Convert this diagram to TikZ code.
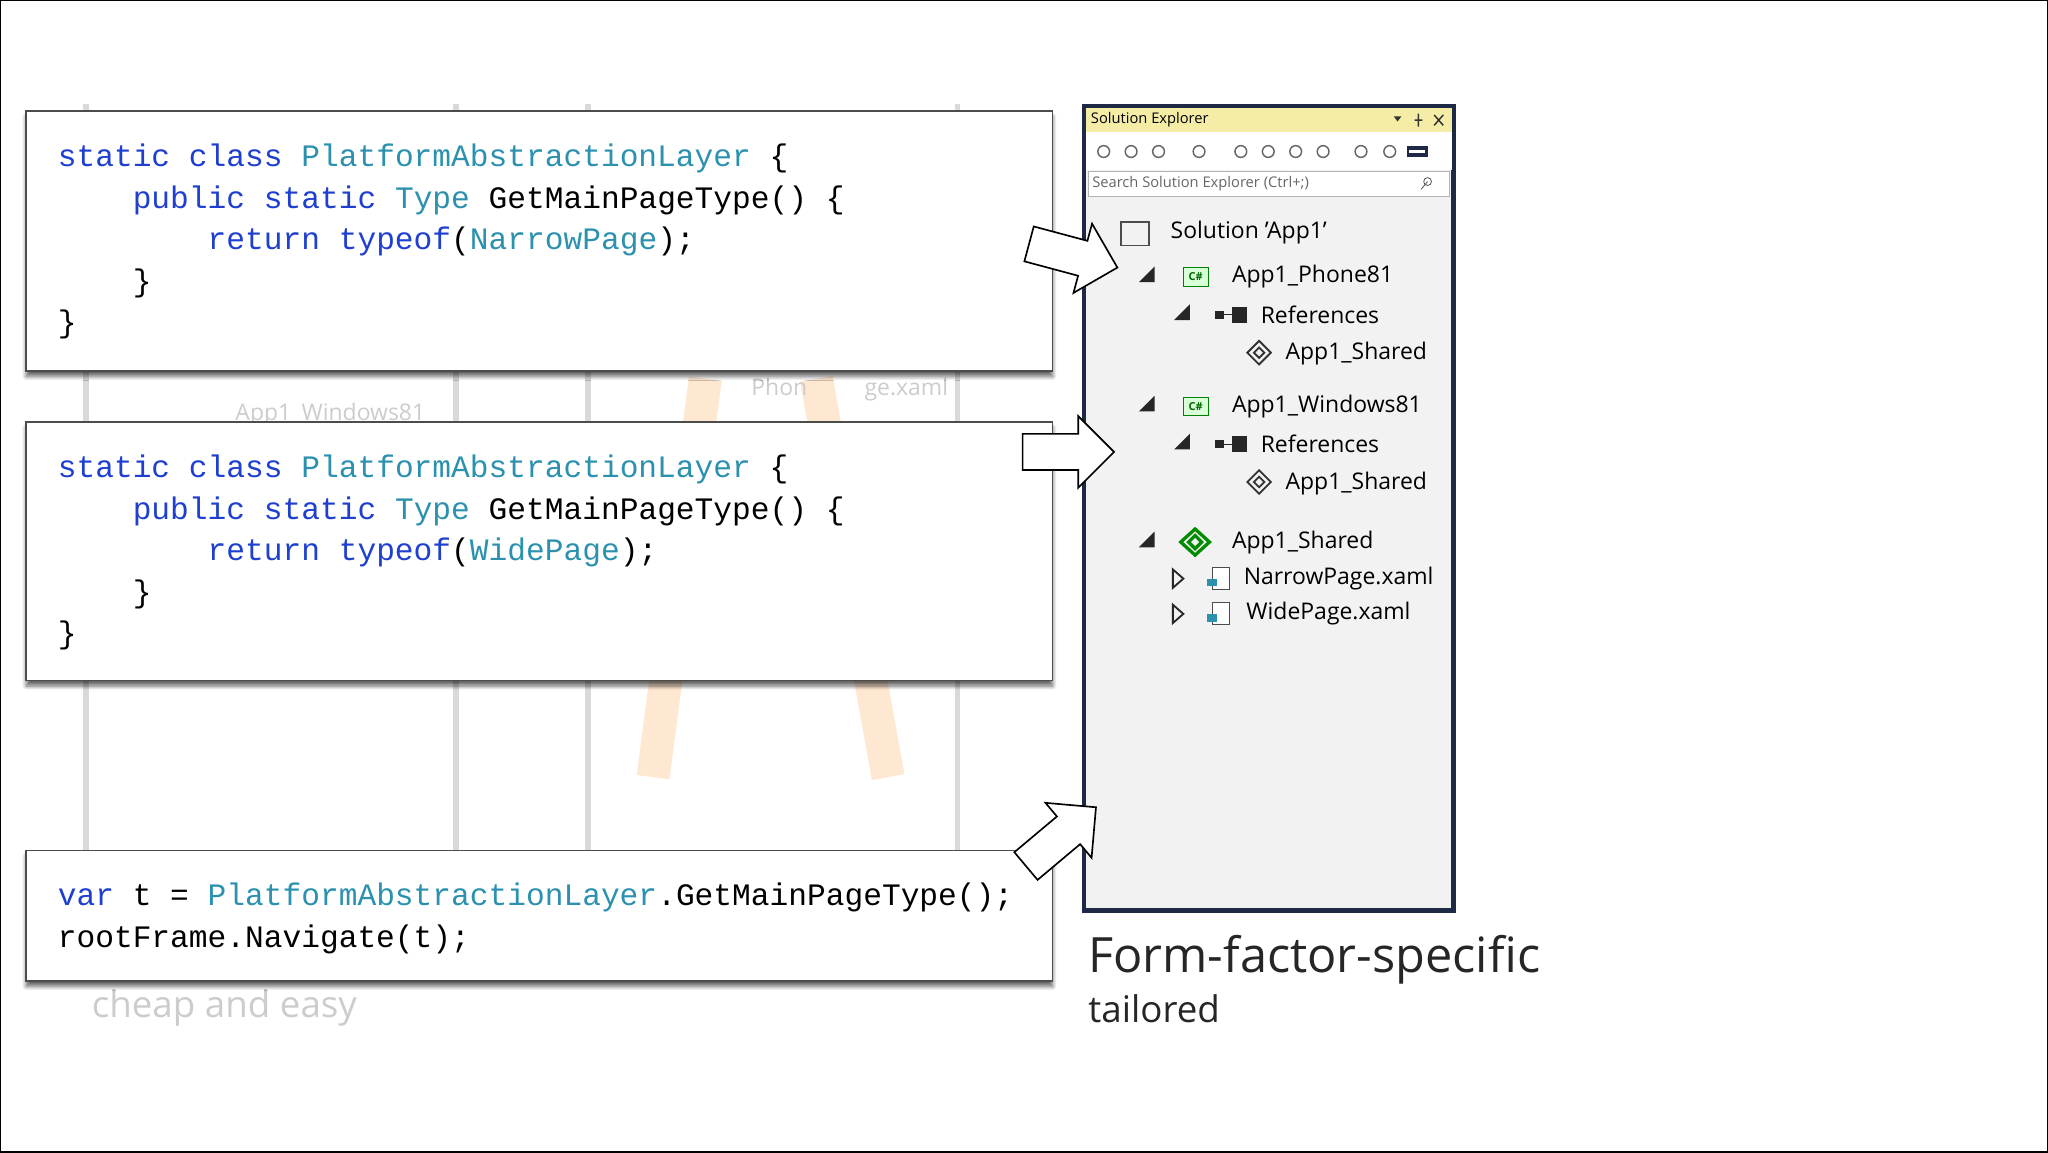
\documentclass[tikz,border=0pt]{standalone}
\usepackage{fontspec}
\setmainfont{Open Sans}
\setmonofont{Liberation Mono}
\usetikzlibrary{shapes.arrows,shadows.blur}
\definecolor{kw}{HTML}{1F3FD0}
\definecolor{ty}{HTML}{2B91AF}
\definecolor{navy}{HTML}{1E2A45}
\definecolor{seyel}{HTML}{F5EDA6}
\definecolor{sebg}{HTML}{F2F2F2}
\newcommand{\kw}[1]{\textcolor{kw}{#1}}
\newcommand{\ty}[1]{\textcolor{ty}{#1}}
\tikzset{
  codebox/.style={draw=black!70, fill=white, line width=0.8pt,
    blur shadow={shadow blur steps=8, shadow xshift=0pt, shadow yshift=-3pt, shadow opacity=60}},
  codetext/.style={anchor=north west, align=left, inner sep=0pt,
    font=\ttfamily\fontsize{17}{22.6}\selectfont},
  bigarrow/.style={single arrow, draw=black, fill=white, line width=0.9pt,
    minimum height=17.5mm, minimum width=13.5mm, single arrow head extend=3.4mm,
    text height=0pt, text depth=0pt, inner xsep=0pt, inner ysep=3.3mm},
  treeitem/.style={anchor=west, inner sep=0pt, font=\fontsize{12.5}{14}\selectfont},
}
\begin{document}
\begin{tikzpicture}[x=0.25mm, y=-0.25mm]
  \useasboundingbox (0,0) rectangle (1568,882);
  \draw[black, line width=1pt] (0,0) rectangle (1568,882);
  % faded background
  \foreach \gx in {66,349,450,733}
    \draw[black!15, line width=3pt] (\gx,80) -- (\gx,651);
  \draw[orange!18, line width=18pt] (540,290) -- (500,595);
  \draw[orange!18, line width=18pt] (625,290) -- (680,595);
  \node[treeitem, text=black!20] (ghostwin) at (180,317) {App1\_Windows81};
  \node[treeitem, text=black!20] (ghostphone) at (575,298) {Phon\hspace{2.5em}ge.xaml};
  \node[treeitem, text=black!20, font=\fontsize{20}{22}\selectfont] (ghostcheap) at (70,772) {cheap and easy};
  % code boxes
  \draw[codebox] (20,85) rectangle (806,284);
  \node[codetext] (narrowcode) at (44,110) {\kw{static class} \ty{PlatformAbstractionLayer} \{\\
    \ \ \ \ \kw{public static} \ty{Type} GetMainPageType() \{\\
    \ \ \ \ \ \ \ \ \kw{return typeof}(\ty{NarrowPage});\\
    \ \ \ \ \}\\ \}};
  \draw[codebox] (20,323) rectangle (806,521);
  \node[codetext] (widecode) at (44,348) {\kw{static class} \ty{PlatformAbstractionLayer} \{\\
    \ \ \ \ \kw{public static} \ty{Type} GetMainPageType() \{\\
    \ \ \ \ \ \ \ \ \kw{return typeof}(\ty{WidePage});\\
    \ \ \ \ \}\\ \}};
  \draw[codebox] (20,651) rectangle (806,751);
  \node[codetext] (callcode) at (44,676) {\kw{var} t = \ty{PlatformAbstractionLayer}.GetMainPageType();\\
    rootFrame.Navigate(t);};
  % solution explorer
  \draw[navy, line width=2.5pt, fill=sebg] (830,81) rectangle (1113,697);
  \fill[seyel] (831.5,82.5) rectangle (1111.5,101);
  \node[treeitem, font=\fontsize{8}{9}\selectfont] (setitle) at (835,92) {Solution Explorer};
  \fill[black!80] (1067,89) -- (1073,89) -- (1070,93) -- cycle;
  \draw[black!80, line width=0.8pt] (1086,87) -- (1086,97) (1083,92) -- (1089,92)
    (1098,88) -- (1105,96) (1105,88) -- (1098,96);
  \fill[white] (831.5,101) rectangle (1111.5,130);
  \foreach \ix in {845,866,887,918,950,971,992,1013,1042,1064}
    \draw[black!60, line width=0.8pt] (\ix,116) circle (4.5);
  \fill[navy] (1077,112) rectangle (1093,120);
  \fill[white] (1079,115) rectangle (1091,117);
  \draw[black!30, fill=white] (833,131) rectangle (1110,150);
  \node[treeitem, text=black!60, font=\fontsize{8}{9}\selectfont] (sesearch) at (836,141) {Search Solution Explorer (Ctrl+;)};
  \draw[black!70] (1093,139) circle (3) -- (1088,145);
  % tree
  \draw[black!70, line width=1pt] (858,170) rectangle (880,188);
  \node[treeitem] (solution) at (896,178) {Solution 'App1'};
  \foreach \ry/\rx in {212/878, 241/905, 311/878, 340/905, 415/878}
    \fill[black!85] (\rx-6,\ry+4) -- (\rx+6,\ry+4) -- (\rx+6,\ry-8) -- cycle;
  \foreach \ry in {212,311} {
    \draw[green!50!black, fill=green!15] (906,\ry-7) rectangle (925,\ry+7);
    \node[font=\fontsize{6}{6}\selectfont\bfseries, text=green!40!black, inner sep=0pt] at (915.5,\ry) {C\#};
  }
  \foreach \ry in {241,340} {
    \fill[black!85] (930,\ry-3) rectangle (937,\ry+3);
    \draw[black!85] (937,\ry) -- (943,\ry);
    \fill[black!85] (943,\ry-6) rectangle (955,\ry+6);
  }
  \foreach \ry in {270,369}
    \draw[black!80, line width=1pt] (964,\ry-9) -- (973,\ry) -- (964,\ry+9) -- (955,\ry) -- cycle
      (964,\ry-4) -- (968,\ry) -- (964,\ry+4) -- (960,\ry) -- cycle;
  \draw[green!55!black, line width=1.8pt] (915,405) -- (926,415) -- (915,425) -- (904,415) -- cycle
    (915,410) -- (920,415) -- (915,420) -- (910,415) -- cycle;
  \node[treeitem] (phone) at (943,212) {App1\_Phone81};
  \node[treeitem] (phoneref) at (965,241) {References};
  \node[treeitem] (phoneshared) at (984,271) {App1\_Shared};
  \node[treeitem] (windows) at (943,311) {App1\_Windows81};
  \node[treeitem] (winref) at (965,340) {References};
  \node[treeitem] (winshared) at (984,370) {App1\_Shared};
  \node[treeitem] (shared) at (943,415) {App1\_Shared};
  \foreach \ry in {443,470} {
    \draw[black!85, line width=1pt] (898,\ry-7) -- (906,\ry) -- (898,\ry+7) -- cycle;
    \draw[black!70, fill=white] (928,\ry-9) rectangle (941,\ry+8);
    \fill[ty] (924,\ry) rectangle (932,\ry+6);
  }
  \node[treeitem] (narrowxaml) at (952,443) {NarrowPage.xaml};
  \node[treeitem] (widexaml) at (954,470) {WidePage.xaml};
  % arrows
  \node[bigarrow, rotate=-15] (arrownarrow) at (815,194) {};
  \node[bigarrow] (arrowwide) at (811,346) {};
  \node[bigarrow, rotate=40] (arrowcall) at (807,645) {};
  % caption
  \node[treeitem, font=\fontsize{26.5}{30}\selectfont, text=black!85] (caption) at (833,735) {Form-factor-specific};
  \node[treeitem, font=\fontsize{20}{22}\selectfont, text=black!85] (subcaption) at (833,772) {tailored};
\end{tikzpicture}
\end{document}
